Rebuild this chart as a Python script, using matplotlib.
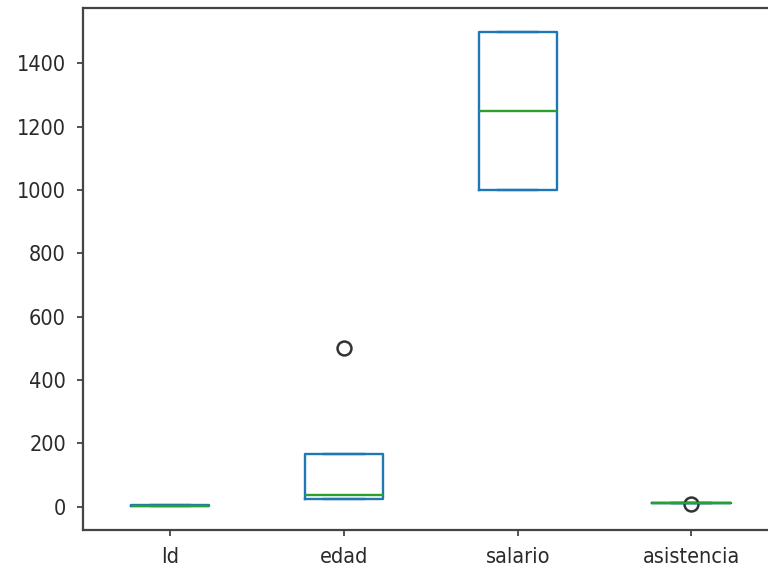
import matplotlib
matplotlib.use("Agg")
import matplotlib.pyplot as plt
import pandas as pd

# Data for the chart (five rows per column)
ids = [1, 2, 3, 4, 5]
edad = [23, 23, 38, 167, 500]
salario = [1000, 1000, 1250, 1500, 1500]
asistencia = [9, 10, 10, 10, 10]

df = pd.DataFrame({"Id": ids, "edad": edad, "salario": salario, "asistencia": asistencia})

plt.rcParams["font.family"] = "DejaVu Sans"
plt.rcParams["font.stretch"] = "condensed"

fig = plt.figure(figsize=(7.68, 5.71), dpi=100)
ax = fig.add_axes([0.1085, 0.0718, 0.905, 0.914])

bp = df.plot.box(ax=ax, return_type="dict")
for key in ["boxes", "whiskers", "caps", "medians"]:
    plt.setp(bp[key], linewidth=1.7)
plt.setp(bp["fliers"], markersize=10, markeredgewidth=1.8, markeredgecolor="#333333")

ax.tick_params(labelsize=15.5, length=4.5, width=1.3, pad=8, labelcolor="#2a2a2a", color="#444444")
for spine in ax.spines.values():
    spine.set_linewidth(1.6)
    spine.set_color("#444444")

fig.savefig("out.png", dpi=100)
